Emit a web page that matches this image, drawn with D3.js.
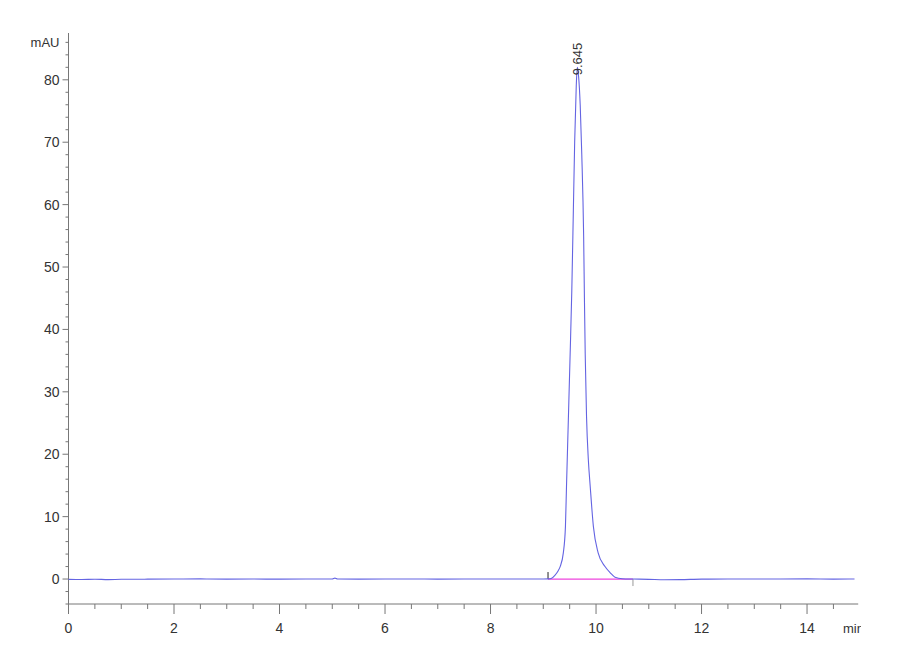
<!DOCTYPE html>
<html>
<head>
<meta charset="utf-8">
<script src="https://cdn.jsdelivr.net/npm/d3@7"></script>
<style>
  body { margin: 0; background: #fff; }
  svg { display: block; }
  text { font-family: "Liberation Sans Narrow", "Arial Narrow", "Liberation Sans", Arial, sans-serif; }
</style>
</head>
<body>
<svg id="graph" width="900" height="660"></svg>
<script>
// signal trace (min, mAU)
var times = [0, 0.25, 0.5, 0.75, 1.0, 1.5, 2.0, 2.5, 3.0, 3.5, 4.0, 4.5, 5.0, 5.05, 5.1, 5.5, 6.0, 6.5, 7.0, 7.5, 8.0, 8.5, 8.9,
    9.0, 9.1, 9.15, 9.22, 9.28, 9.32, 9.38, 9.42, 9.44, 9.475, 9.51, 9.54, 9.57, 9.595, 9.625, 9.645,
    9.67, 9.70, 9.73, 9.765, 9.78, 9.795, 9.82, 9.855, 9.89, 9.95, 10.04, 10.17, 10.27, 10.36, 10.5, 10.7,
    11.0, 11.3, 11.6, 12.0, 12.5, 13.0, 13.5, 14.0, 14.5, 14.9];
var signal = [-0.05, -0.08, -0.03, -0.09, -0.04, -0.02, 0.0, 0.02, -0.01, 0.0, -0.02, 0.01, 0.0, 0.15, 0.0, -0.01, 0.0, 0.01, -0.01, 0.0, 0.01, 0.0, 0.0,
    0.0, 0.02, 0.1, 0.6, 1.3, 2.0, 4.2, 8.4, 14.8, 25.5, 36.3, 46, 59, 70, 79, 82,
    80.5, 76, 68, 55, 45, 36, 26, 19, 14.8, 8.4, 4.2, 2.0, 1.0, 0.3, 0.05, 0.0,
    -0.05, -0.12, -0.1, -0.02, 0.0, 0.01, 0.0, 0.02, -0.01, 0.0];

// peak annotation and integration baseline
var peakTime = 9.645, peakLabel = "9.645", peakTop = 82;
var integStart = 9.09, integEnd = 10.7;

var xMajor = [0, 2, 4, 6, 8, 10, 12, 14];
var yMajor = [0, 10, 20, 30, 40, 50, 60, 70, 80];

var svg = d3.select("#graph");

var x = d3.scaleLinear().domain([0, 15]).range([68.5, 859.8]);
var y = d3.scaleLinear().domain([-4, 87.5]).range([604, 33]);

var axisColor = "#777", labelColor = "#333";

// x axis
var xMinor = d3.range(0, 15, 0.5).filter(d => xMajor.indexOf(d) < 0);
var gx = svg.append("g");
gx.append("line")
    .attr("x1", x(0)).attr("x2", x(14.97))
    .attr("y1", y(-4)).attr("y2", y(-4))
    .attr("stroke", axisColor);
gx.selectAll(".xmin").data(xMinor).join("line")
    .attr("x1", d => x(d)).attr("x2", d => x(d))
    .attr("y1", y(-4)).attr("y2", y(-4) + 5)
    .attr("stroke", axisColor);
gx.selectAll(".xmaj").data(xMajor).join("line")
    .attr("x1", d => x(d)).attr("x2", d => x(d))
    .attr("y1", y(-4)).attr("y2", y(-4) + 10)
    .attr("stroke", axisColor);
gx.selectAll(".xlab").data(xMajor).join("text")
    .attr("x", d => x(d)).attr("y", y(-4) + 29)
    .attr("text-anchor", "middle")
    .attr("font-size", 14).attr("fill", labelColor)
    .text(d => d);

svg.append("clipPath").attr("id", "minclip")
    .append("rect").attr("x", 0).attr("y", 0).attr("width", 861).attr("height", 660);
gx.append("text")
    .attr("clip-path", "url(#minclip)")
    .attr("x", 843).attr("y", y(-4) + 29)
    .attr("font-size", 13).attr("fill", labelColor)
    .text("min");

// y axis
var yMinor = d3.range(-4, 87, 2).filter(d => yMajor.indexOf(d) < 0);
var gy = svg.append("g");
gy.append("line")
    .attr("x1", x(0)).attr("x2", x(0))
    .attr("y1", y(87.5)).attr("y2", y(-4))
    .attr("stroke", axisColor);
gy.selectAll(".ymin").data(yMinor).join("line")
    .attr("x1", x(0) - 3).attr("x2", x(0))
    .attr("y1", d => y(d)).attr("y2", d => y(d))
    .attr("stroke", axisColor);
gy.selectAll(".ymaj").data(yMajor).join("line")
    .attr("x1", x(0) - 6).attr("x2", x(0))
    .attr("y1", d => y(d)).attr("y2", d => y(d))
    .attr("stroke", axisColor);
gy.selectAll(".ylab").data(yMajor).join("text")
    .attr("x", x(0) - 9).attr("y", d => y(d) + 5)
    .attr("text-anchor", "end")
    .attr("font-size", 14).attr("fill", labelColor)
    .text(d => d);
gy.append("text")
    .attr("x", x(0) - 9).attr("y", y(86) + 5)
    .attr("text-anchor", "end")
    .attr("font-size", 13).attr("fill", labelColor)
    .text("mAU");

// integration baseline and markers
svg.append("line")
    .attr("x1", x(integStart)).attr("x2", x(integEnd))
    .attr("y1", y(0)).attr("y2", y(0))
    .attr("stroke", "#ee44dd").attr("stroke-width", 1.3);
svg.append("line")
    .attr("x1", x(integStart)).attr("x2", x(integStart))
    .attr("y1", y(0)).attr("y2", y(0) - 7)
    .attr("stroke", "#222");
svg.append("line")
    .attr("x1", x(integEnd)).attr("x2", x(integEnd))
    .attr("y1", y(0)).attr("y2", y(0) + 7)
    .attr("stroke", "#999");

// trace
var trace = times.map((t, i) => [t, signal[i]]);
svg.append("path")
    .datum(trace)
    .attr("fill", "none")
    .attr("stroke", "#6464e2")
    .attr("stroke-width", 1.1)
    .attr("d", d3.line().x(d => x(d[0])).y(d => y(d[1])).curve(d3.curveMonotoneX));

// peak label
svg.append("text")
    .attr("transform", `translate(${x(peakTime) + 5},${y(peakTop) + 8}) rotate(-90)`)
    .attr("font-size", 13).attr("fill", labelColor)
    .text(peakLabel);
</script>
</body>
</html>
